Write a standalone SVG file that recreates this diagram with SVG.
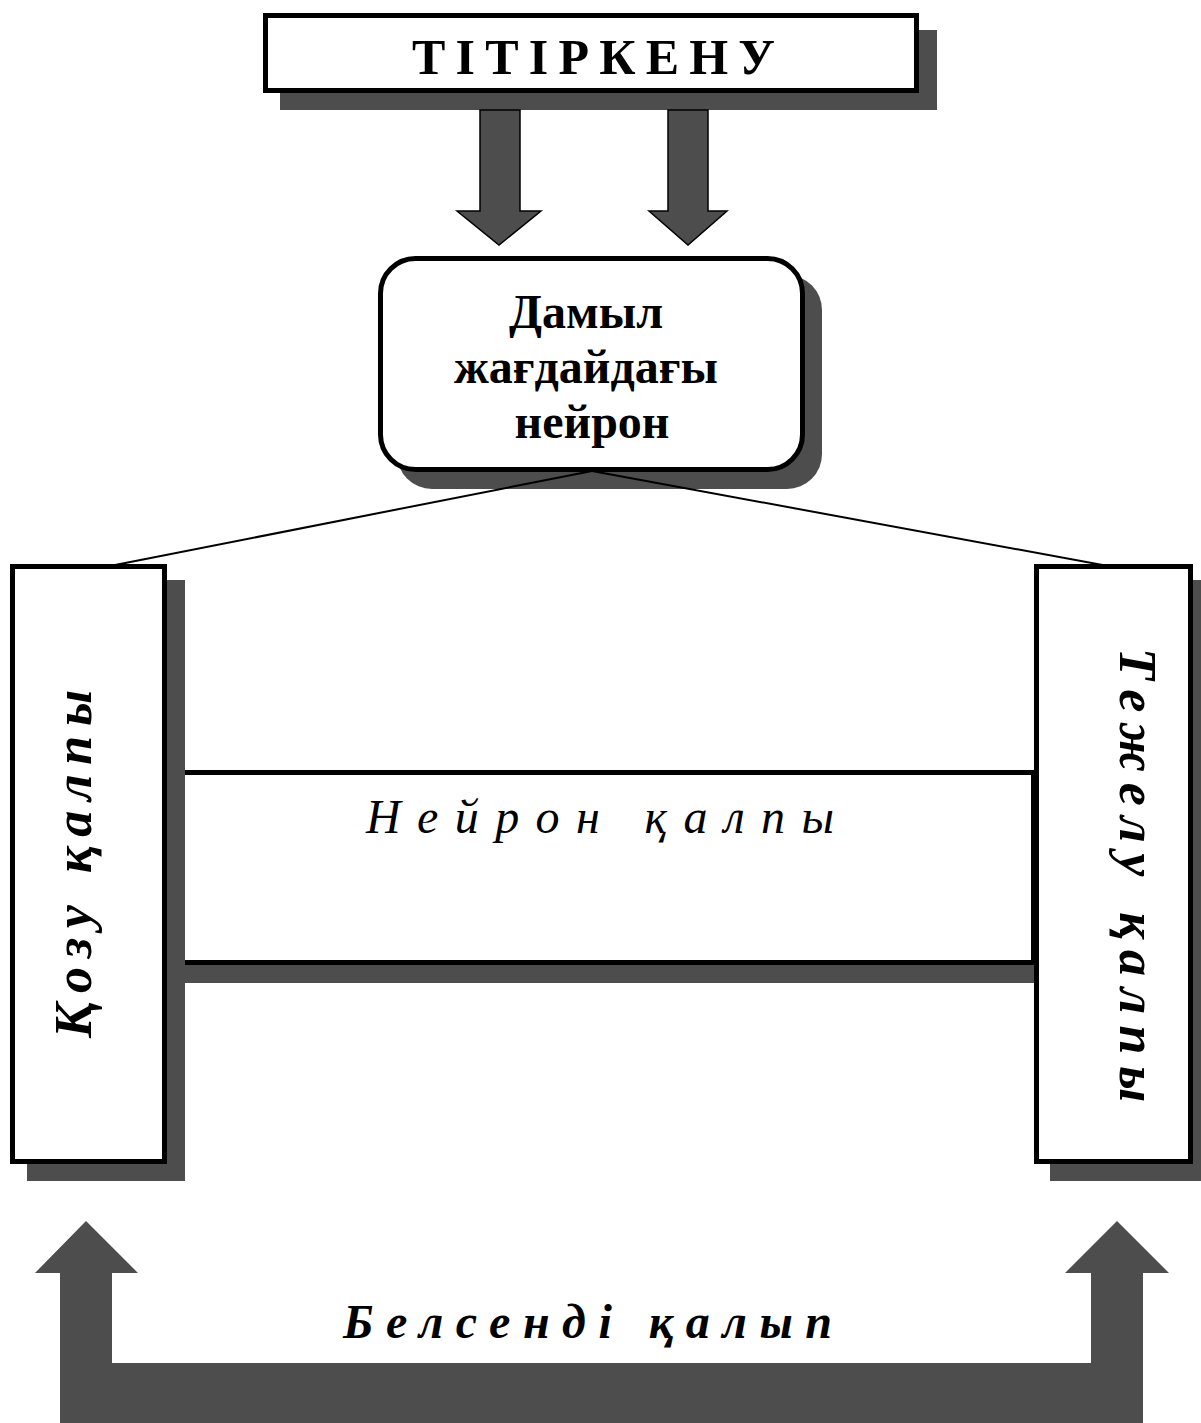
<svg xmlns="http://www.w3.org/2000/svg" width="1201" height="1423" viewBox="0 0 1201 1423">
<style>
.sh{fill:#4d4d4d}
.box{fill:#fff;stroke:#000;stroke-width:5}
.t{font-family:"Liberation Serif","Times New Roman",serif;fill:#000}
.b{font-weight:bold}
.i{font-style:italic}
.arr{fill:#4d4d4d;stroke:#000;stroke-width:1.5}
.ln{stroke:#000;stroke-width:2;fill:none}
</style>
<rect width="1201" height="1423" fill="#fff"/>

<g id="titirkenu">
<rect class="sh" x="280" y="30" width="657" height="80"/>
<rect class="box" x="265.5" y="15.5" width="651" height="75"/>
<text class="t b" x="412" y="74" font-size="50" textLength="363" lengthAdjust="spacing">ТІТІРКЕНУ</text>
</g>

<g id="damyl">
<rect class="sh" x="397" y="275" width="425" height="214" rx="35"/>
<rect class="box" x="380.5" y="258.5" width="422" height="211" rx="35"/>
<text class="t b" font-size="48" text-anchor="middle">
<tspan x="592" y="328">Дамыл</tspan>
<tspan x="592" y="383">жағдайдағы</tspan>
<tspan x="592" y="438">нейрон</tspan>
</text>
</g>

<g id="neiron">
<rect class="sh" x="185" y="790" width="865" height="193"/>
<rect class="box" x="182.5" y="772.5" width="851" height="190"/>
<text class="t i" x="366" y="833" font-size="48" textLength="468" lengthAdjust="spacing">Нейрон қалпы</text>
</g>

<g id="kozu">
<rect class="sh" x="27" y="580" width="158" height="601"/>
<rect class="box" x="12.5" y="566.5" width="152" height="595"/>
<text class="t b i" transform="translate(91,1038) rotate(-90)" x="0" y="0" font-size="52" textLength="348" lengthAdjust="spacing">Қозу қалпы</text>
</g>

<g id="tezhelu">
<rect class="sh" x="1050" y="580" width="160" height="601"/>
<rect class="box" x="1036.5" y="566.5" width="154" height="595"/>
<text class="t b i" transform="translate(1120,648) rotate(90)" x="0" y="0" font-size="52" textLength="454" lengthAdjust="spacing">Тежелу қалпы</text>
</g>

<g id="belsendi">
<text class="t b i" x="343" y="1338" font-size="48" textLength="489" lengthAdjust="spacing">Белсенді  қалып</text>
</g>

<g id="connectors">
<polygon class="arr" points="480,110 520,110 520,211 541,211 499,245 457,211 480,211"/>
<polygon class="arr" points="668,110 708,110 708,211 727,211 688,245 649,211 668,211"/>
<line class="ln" x1="592" y1="471" x2="110" y2="566"/>
<line class="ln" x1="592" y1="471" x2="1108" y2="566"/>
<polygon fill="#4d4d4d" points="60,1423 60,1273 35,1273 86,1221 138,1273 112,1273 112,1363 1091,1363 1091,1273 1065,1273 1117,1221 1169,1273 1143,1273 1143,1423"/>
</g>
</svg>
